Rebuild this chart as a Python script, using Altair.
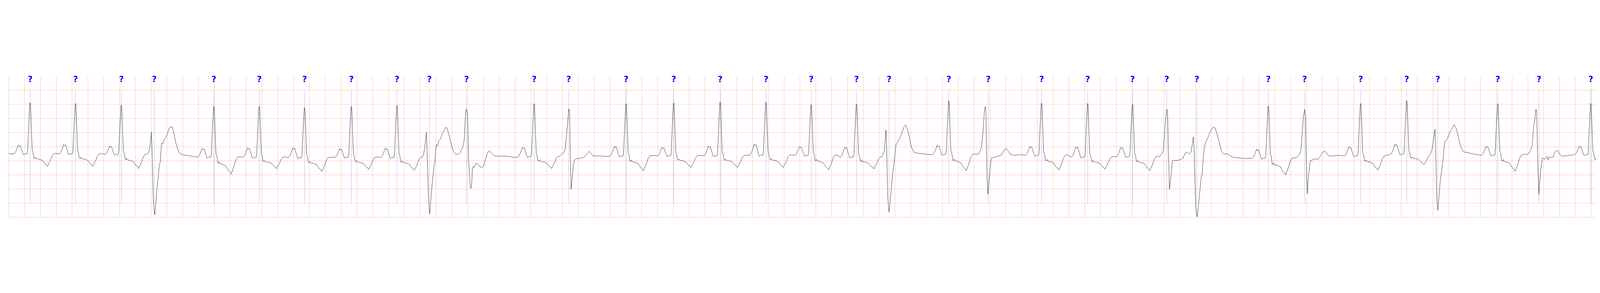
import altair as alt
import pandas as pd

X_MAX = 20.065

# ---- beat annotations (time of each "?" marker, s) ----
beat_times = [0.2715, 0.8452, 1.4242, 1.8406, 2.5938, 3.1674, 3.7400, 4.3314, 4.9080, 5.3177,
              5.7862, 6.6418, 7.0778, 7.8039, 8.4057, 8.9925, 9.5715, 10.1433, 10.7159, 11.1272,
              11.8830, 12.3807, 13.0547, 13.6378, 14.2045, 14.6378, 15.0177, 15.9208, 16.3794, 17.0875,
              17.6703, 18.0620, 18.8208, 19.3410, 19.9965]
beat_labels = ["?"] * len(beat_times)

# ---- normal beats: R time, baseline, P height, R height, T depth (mV) ----
n_time = [0.2715, 0.8452, 1.4242, 2.5938, 3.1674, 3.7400, 4.3314, 4.9080, 6.6418, 7.8039, 8.4057, 8.9925,
          9.5715, 10.1433, 10.7159, 11.8830, 13.0547, 13.6378, 14.2045, 15.9208, 17.0875, 17.6703, 18.8208, 19.9965]
n_base = [-0.263, -0.263, -0.286, -0.383, -0.383, -0.398, -0.383, -0.391, -0.361, -0.338, -0.331, -0.331,
          -0.308, -0.316, -0.376, -0.286, -0.316, -0.376, -0.361, -0.421, -0.338, -0.271, -0.308, -0.293]
n_p = [0.323, 0.338, 0.308, 0.323, 0.341, 0.356, 0.308, 0.335, 0.338, 0.346, 0.305, 0.350,
       0.395, 0.317, 0.361, 0.328, 0.324, 0.371, 0.335, 0.329, 0.330, 0.357, 0.317, 0.302]
n_r = [1.817, 1.789, 1.756, 1.810, 1.814, 1.784, 1.810, 1.844, 1.882, 1.859, 1.879, 1.913,
       1.880, 1.803, 1.880, 1.908, 1.861, 1.904, 1.859, 1.865, 1.866, 1.900, 1.823, 1.821]
n_t = [-0.436, -0.436, -0.489, -0.586, -0.402, -0.477, -0.425, -0.451, -0.414, -0.521, -0.410, -0.410,
       -0.432, -0.510, -0.416, -0.574, -0.520, -0.426, -0.489, -0.583, -0.497, -0.369, -0.568, -0.450]

# normal-beat shape read from the beat at 8.41 s (offset s, mV above baseline)
tmpl_dt = [-0.204, -0.185, -0.169, -0.148, -0.138, -0.125, -0.109, -0.094, -0.083, -0.064, -0.042, -0.034,
           -0.029, -0.018, -0.005, 0.0, 0.006, 0.016, 0.026, 0.036, 0.049, 0.063, 0.066, 0.082,
           0.108, 0.134, 0.153, 0.166, 0.186, 0.206, 0.219, 0.232, 0.255, 0.277, 0.297, 0.323]
tmpl_mv = [0.0, 0.06, 0.16, 0.31, 0.27, 0.29, 0.16, 0.03, -0.03, 0.01, 0.0, 0.05,
           0.30, 1.04, 1.82, 1.88, 1.78, 0.91, 0.13, 0.06, -0.14, -0.15, -0.11, -0.16,
           -0.17, -0.19, -0.21, -0.26, -0.33, -0.36, -0.41, -0.34, -0.22, -0.07, 0.0, 0.02]
TMPL_P, TMPL_R, TMPL_T = 0.31, 1.88, -0.41

# ---- traced stretches with ectopic / irregular beats (s, mV) ----
seg0_t = [0.0, 0.0376]
seg0_v = [-0.241, -0.263]

segA_t = [1.7708, 1.7869, 1.8047, 1.8157, 1.8280, 1.8460, 1.8637, 1.8774, 1.8868, 1.9074, 1.9157, 1.9318,
          1.9485, 1.9691, 1.9895, 2.0096, 2.0306, 2.0472, 2.0641, 2.0797, 2.0952, 2.1121, 2.1317, 2.1513,
          2.1642, 2.1967, 2.2619, 2.3268, 2.3772]
segA_v = [-0.211, 0.008, 0.511, -0.429, -1.877, -2.420, -1.877, -1.444, -1.150, -0.609, -0.571, 0.113,
          0.098, 0.258, 0.331, 0.481, 0.662, 0.694, 0.704, 0.576, 0.373, 0.137, -0.049, -0.201,
          -0.251, -0.285, -0.319, -0.343, -0.368]

segB_t = [5.2436, 5.2565, 5.2801, 5.2916, 5.3061, 5.3217, 5.3386, 5.3477, 5.3606, 5.3775,
          5.3866, 5.3997, 5.4089, 5.4166, 5.4386, 5.4582, 5.4778, 5.5038, 5.5234, 5.5390,
          5.5623, 5.5948, 5.6208, 5.6469, 5.6860, 5.7056, 5.7381, 5.7577, 5.7770, 5.7861,
          5.7993, 5.8121, 5.8357, 5.8446, 5.8529, 5.8615, 5.8720, 5.8814, 5.9071, 5.9267,
          5.9527, 5.9852, 6.0048, 6.0281, 6.0458, 6.0719, 6.1043, 6.1304, 6.1564, 6.2865, 6.4099]
segB_v = [-0.268, -0.098, 0.508, -0.436, -1.787, -2.389, -1.787, -1.483, -1.113, -0.674,
          -0.571, -0.030, 0.069, 0.023, 0.205, 0.271, 0.424, 0.576, 0.677, 0.662,
          0.441, 0.069, -0.167, -0.268, -0.275, -0.218, -0.030, 0.238, 1.251, 1.326,
          1.183, -0.436, -1.433, -1.483, -1.281, -0.774, -0.707, -0.741, -0.589, -0.623,
          -0.707, -0.741, -0.674, -0.436, -0.268, -0.150, -0.235, -0.308, -0.343, -0.336, -0.386]

segC_t = [6.9922, 7.0152, 7.0346, 7.0609, 7.0802, 7.0906, 7.0971, 7.1089, 7.1258, 7.1387,
          7.1518, 7.1714, 7.2103, 7.2688, 7.3080, 7.3340, 7.3665, 7.3925, 7.4563, 7.5878]
segC_v = [-0.256, -0.218, -0.098, 0.711, 1.335, 1.188, -0.201, -1.511, -1.045, -0.606,
          -0.471, -0.436, -0.420, -0.386, -0.268, -0.167, -0.268, -0.336, -0.331, -0.353]

segD_t = [11.0659, 11.0788, 11.0879, 11.0946, 11.1021, 11.1102, 11.1271, 11.1464, 11.1596, 11.1724,
          11.1896, 11.2025, 11.2154, 11.2285, 11.2414, 11.2741, 11.2934, 11.3130, 11.3353, 11.3651,
          11.3847, 11.4107, 11.4432, 11.4823, 11.5473, 11.6125, 11.6608]
segD_v = [-0.167, 0.238, 0.583, 0.241, -0.774, -1.787, -2.328, -1.787, -1.383, -0.944,
          -0.606, -0.268, 0.086, 0.105, 0.205, 0.356, 0.508, 0.677, 0.771, 0.576,
          0.306, -0.032, -0.201, -0.235, -0.252, -0.275, -0.286]

segE_t = [12.2323, 12.2583, 12.2779, 12.2948, 12.3170, 12.3299, 12.3431, 12.3522, 12.3651, 12.3769,
          12.3884, 12.4042, 12.4211, 12.4536, 12.5057, 12.5513, 12.5773, 12.6006, 12.6358, 12.6618,
          12.7139, 12.7920, 12.8413]
segE_v = [-0.268, -0.268, -0.150, -0.032, 0.576, 1.183, 1.414, 1.183, -1.113, -1.686,
          -1.281, -0.774, -0.403, -0.386, -0.336, -0.285, -0.150, -0.056, -0.167, -0.285,
          -0.308, -0.285, -0.308]

segF_t = [14.5440, 14.5636, 14.5829, 14.5961, 14.6116, 14.6285, 14.6390, 14.6481, 14.6572, 14.6715,
          14.6806, 14.6897, 14.7093, 14.7391, 14.7783, 14.8172, 14.8432, 14.8692, 14.8952, 14.9213,
          14.9449, 14.9604, 14.9720, 14.9824, 14.9929, 15.0034, 15.0203, 15.0385, 15.0514, 15.0710,
          15.0839, 15.0970, 15.1126, 15.1295, 15.1491, 15.1751, 15.1947, 15.2271, 15.2467, 15.2660,
          15.2988, 15.3312, 15.3573, 15.4029, 15.4418, 15.4810, 15.5719, 15.6371, 15.7020]
segF_v = [-0.370, -0.286, -0.235, -0.065, 0.576, 1.150, 1.319, 1.150, -0.099, -1.517,
          -1.281, -1.045, -0.505, -0.488, -0.488, -0.454, -0.403, -0.235, -0.201, -0.268,
          -0.184, 0.069, 0.346, -0.032, -1.113, -2.058, -2.496, -2.058, -1.686, -1.113,
          -0.977, -0.436, 0.002, 0.153, 0.272, 0.441, 0.576, 0.694, 0.660, 0.508,
          0.171, -0.184, -0.262, -0.262, -0.336, -0.386, -0.410, -0.430, -0.410]

segG_t = [16.2569, 16.2829, 16.3157, 16.3326, 16.3481, 16.3637, 16.3793, 16.3897, 16.4002, 16.4131,
          16.4262, 16.4391, 16.4522, 16.4783, 16.5172, 16.5499, 16.5759, 16.6084, 16.6344, 16.6865,
          16.7385, 16.8166, 16.8713]
segG_v = [-0.403, -0.370, -0.268, -0.133, 0.407, 1.048, 1.312, 1.082, -0.436, -1.669,
          -1.113, -0.774, -0.505, -0.471, -0.436, -0.454, -0.353, -0.201, -0.160, -0.336,
          -0.329, -0.308, -0.329]

segH_t = [17.9875, 18.0071, 18.0267, 18.0396, 18.0487, 18.0624, 18.0779, 18.0908, 18.1104, 18.1300,
          18.1496, 18.1624, 18.1820, 18.2014, 18.2341, 18.2703, 18.2926, 18.3119, 18.3315, 18.3575,
          18.3835, 18.4420, 18.5201, 18.5850]
segH_v = [-0.133, 0.238, 0.617, -0.436, -1.787, -2.260, -1.787, -1.281, -0.876, -0.436,
          0.171, 0.188, 0.272, 0.407, 0.609, 0.768, 0.660, 0.474, 0.205, -0.049,
          -0.184, -0.218, -0.268, -0.302]

segI_t = [19.1965, 19.2158, 19.2381, 19.2550, 19.2743, 19.2875, 19.3030, 19.3135, 19.3240, 19.3395,
          19.3524, 19.3655, 19.3851, 19.4112, 19.4256, 19.4409, 19.4565, 19.4697, 19.4957, 19.5217,
          19.5410, 19.5762, 19.5995, 19.6320, 19.6907, 19.7685, 19.7852]
segI_v = [-0.271, -0.235, -0.099, 0.035, 0.711, 0.914, 1.319, 1.183, -0.436, -1.703,
          -1.214, -0.774, -0.403, -0.454, -0.391, -0.343, -0.471, -0.370, -0.386, -0.370,
          -0.201, -0.126, -0.262, -0.343, -0.319, -0.302, -0.271]

segments = [(seg0_t, seg0_v), (segA_t, segA_v), (segB_t, segB_v), (segC_t, segC_v), (segD_t, segD_v),
            (segE_t, segE_v), (segF_t, segF_v), (segG_t, segG_v), (segH_t, segH_v), (segI_t, segI_v)]

# ---- assemble the trace ----
pts = []
ranges = []
for st, sv in segments:
    pts.extend(zip(st, sv))
    ranges.append((st[0], st[-1]))

for tb, b, p, r, tt in zip(n_time, n_base, n_p, n_r, n_t):
    for dt, dv in zip(tmpl_dt, tmpl_mv):
        if dt < -0.031:
            k = p / TMPL_P
        elif dt <= 0.03:
            k = r / TMPL_R
        else:
            k = tt / TMPL_T
        t = tb + dt
        if any(a - 0.01 <= t <= e for a, e in ranges):
            continue
        pts.append((t, b + dv * k))

pts = sorted(q for q in pts if q[0] <= X_MAX)
df_line = pd.DataFrame(pts, columns=["t", "mv"])
df_ann = pd.DataFrame({"t": beat_times, "label": beat_labels})

grid_x = [round(0.2 * i, 1) for i in range(101)]
grid_y = [-2.5, -2.0, -1.5, -1.0, -0.5, 0.0, 0.5, 1.0, 1.5, 2.0]

xs = alt.Scale(domain=[0, X_MAX], nice=False, zero=False)
ys = alt.Scale(domain=[-2.5, 2.5], nice=False, zero=False)
x_axis = alt.Axis(values=grid_x, grid=True, labels=False, ticks=False, domain=False, title=None)
y_axis = alt.Axis(values=grid_y, grid=True, labels=False, ticks=False, domain=False, title=None)

line = alt.Chart(df_line).mark_line(color="black", strokeWidth=1.4, clip=True).encode(
    x=alt.X("t:Q", scale=xs, axis=x_axis),
    y=alt.Y("mv:Q", scale=ys, axis=y_axis),
)

rules = alt.Chart(df_ann).mark_rule(color="blue", strokeWidth=1, opacity=0.5).encode(
    x=alt.X("t:Q", scale=xs, axis=x_axis),
    y=alt.datum(2.0),
    y2=alt.datum(-2.0),
)

labels = alt.Chart(df_ann).mark_text(
    color="blue", fontSize=38, fontWeight="bold", font="DejaVu Sans",
    align="center", baseline="alphabetic"
).encode(
    x=alt.X("t:Q", scale=xs, axis=x_axis),
    y=alt.datum(2.286),
    text="label:N",
)

chart = alt.layer(rules, labels, line).properties(
    width=7477,
    height=665,
    autosize=alt.AutoSizeParams(type="none"),
    padding={"left": 26, "top": 36, "right": 3, "bottom": 30},
    background="white",
).configure_view(stroke=None).configure_axis(
    gridColor="red", gridOpacity=0.3, gridWidth=1.5
)

chart.save("out.html", embed_options={"renderer": "svg", "actions": False})
